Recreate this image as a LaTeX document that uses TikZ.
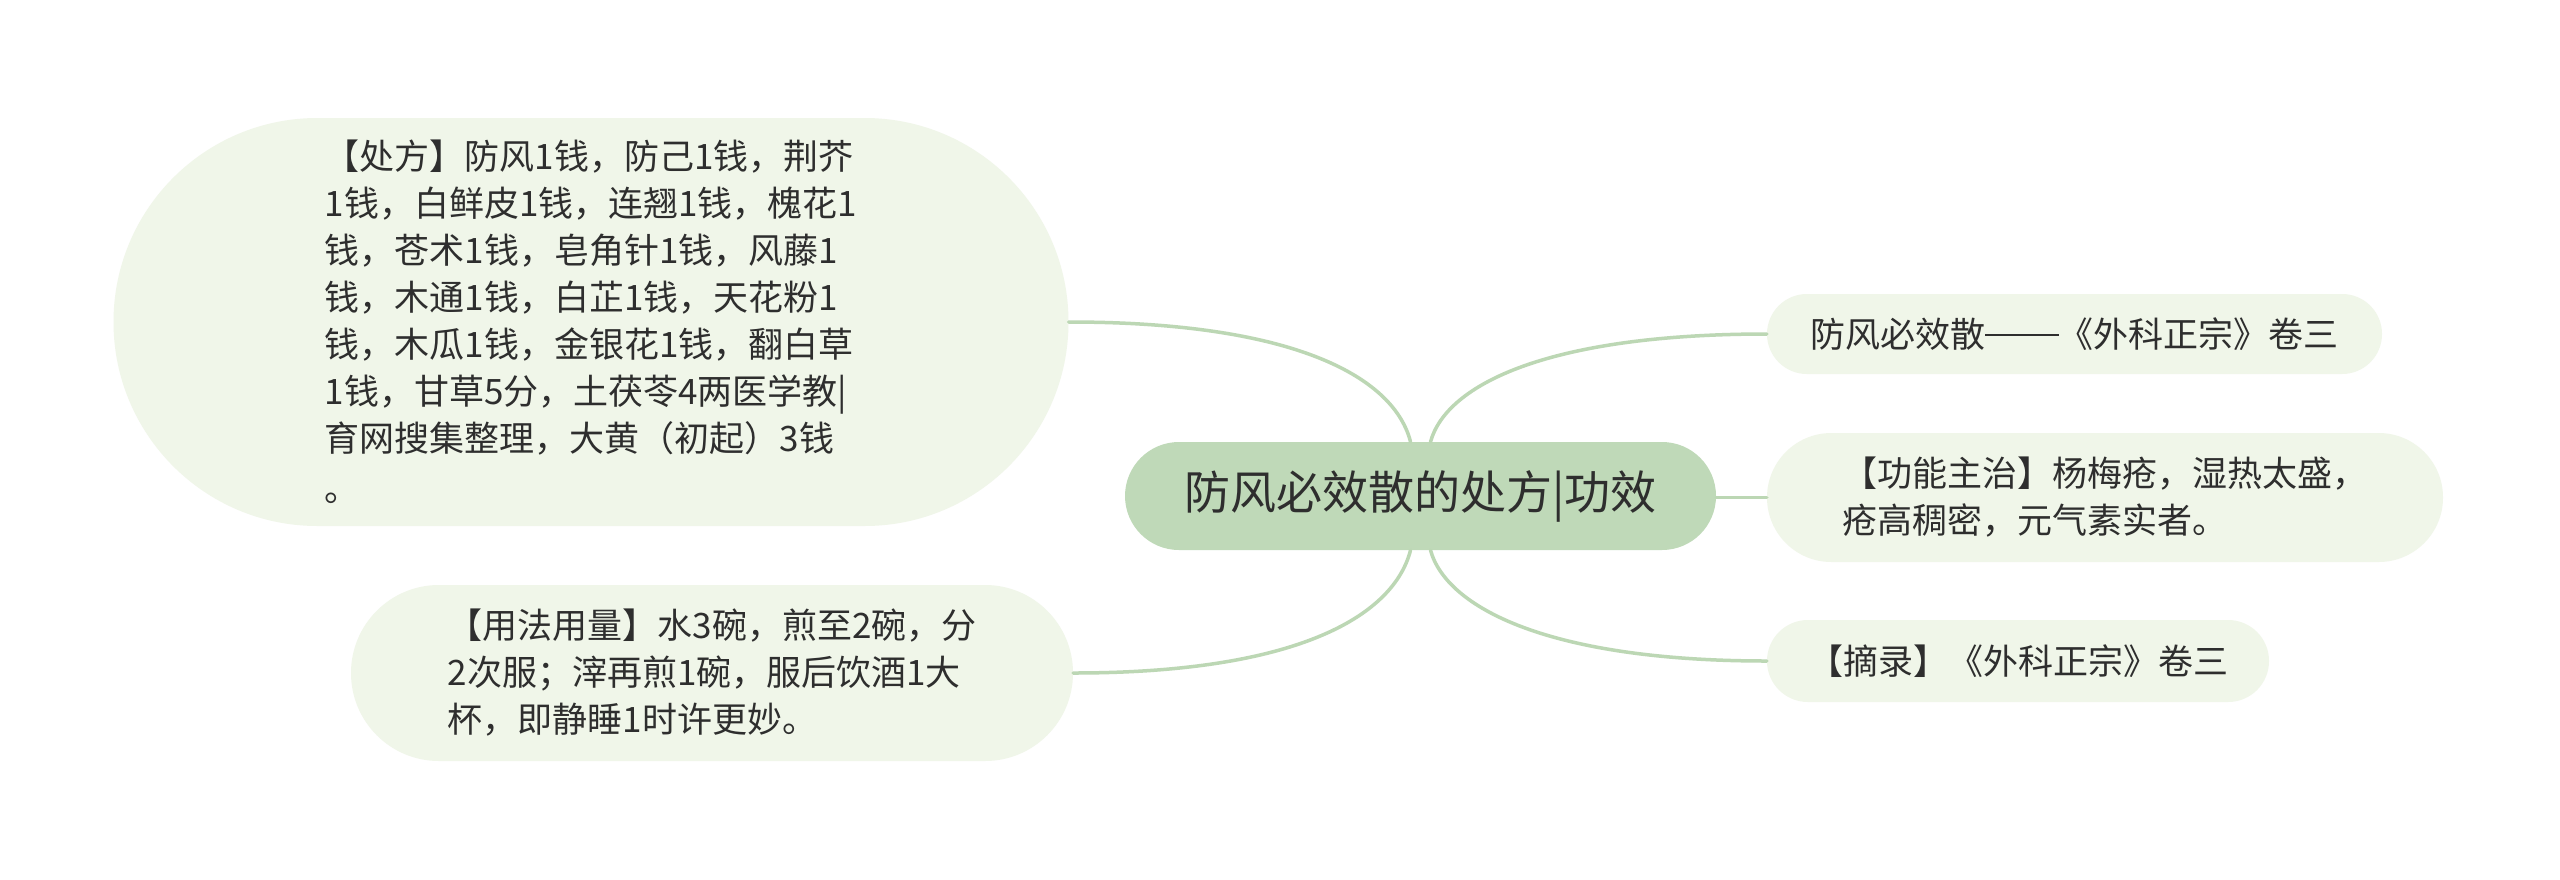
\documentclass[tikz,border=0pt]{standalone}
\usepackage{fontspec}
\setmainfont{Noto Sans CJK SC}
\definecolor{rootfill}{HTML}{BFD9B8}
\definecolor{leaffill}{HTML}{F0F6E9}
\definecolor{linkcol}{HTML}{BCD7B4}
\definecolor{txtcol}{HTML}{2E2E2E}
\newcommand{\cjkdash}{\rule[0.33em]{2.1em}{0.055em}}
\tikzset{
  rootbox/.style={fill=rootfill, draw=none, text=txtcol, inner sep=0pt,
    minimum width=591pt, minimum height=108pt, rounded corners=54pt,
    font=\fontsize{46}{55}\selectfont},
  leafbox/.style={fill=leaffill, draw=none, text=txtcol, inner sep=0pt,
    align=left, font=\fontsize{35}{47}\selectfont},
  link/.style={draw=linkcol, line width=3.5pt, line cap=round}
}
\begin{document}
\begin{tikzpicture}[x=1pt,y=-1pt]
\useasboundingbox[fill=white] (0,0) rectangle (2560,879);

% leaves
\node[leafbox, minimum width=955pt, minimum height=408pt, rounded corners=203.9pt] (rx) at (591,322)
 {【处方】防风1钱，防己1钱，荆芥\\
  1钱，白鲜皮1钱，连翘1钱，槐花1\\
  钱，苍术1钱，皂角针1钱，风藤1\\
  钱，木通1钱，白芷1钱，天花粉1\\
  钱，木瓜1钱，金银花1钱，翻白草\\
  1钱，甘草5分，土茯苓4两医学教|\\
  育网搜集整理，大黄（初起）3钱\\[3pt]
  。};
\node[leafbox, minimum width=722pt, minimum height=176pt, rounded corners=87.9pt] (use) at (712,673)
 {【用法用量】水3碗，煎至2碗，分\\
  2次服；滓再煎1碗，服后饮酒1大\\
  杯，即静睡1时许更妙。};
\node[leafbox, minimum width=615pt, minimum height=80pt, rounded corners=39.9pt] (src) at (2074.5,334)
 {防风必效散\cjkdash《外科正宗》卷三};
\node[leafbox, minimum width=676pt, minimum height=129pt, rounded corners=64.4pt] (func) at (2105,497.5)
 {【功能主治】杨梅疮，湿热太盛，\\
  疮高稠密，元气素实者。};
\node[leafbox, minimum width=502pt, minimum height=82pt, rounded corners=40.9pt] (ext) at (2018,661)
 {【摘录】《外科正宗》卷三};

% root
\node[rootbox] (root) at (1420.5,496) {防风必效散的处方|功效};

% anchor points on the root
\coordinate (rtl) at ([xshift=-10pt]root.north);
\coordinate (rtr) at ([xshift=10pt]root.north);
\coordinate (rbl) at ([xshift=-10pt]root.south);
\coordinate (rbr) at ([xshift=10pt]root.south);

% connectors
\draw[link] (rtl) .. controls ([xshift=-16pt,yshift=63pt]rtl) and ([xshift=230pt]rx.east) .. (rx.east);
\draw[link] (rtr) .. controls ([xshift=16pt,yshift=58pt]rtr) and ([xshift=-217pt]src.west) .. (src.west);
\draw[link] (root.east |- func.west) -- (func.west);
\draw[link] (rbl) .. controls ([xshift=-16pt,yshift=-63pt]rbl) and ([xshift=230pt]use.east) .. (use.east);
\draw[link] (rbr) .. controls ([xshift=16pt,yshift=-58pt]rbr) and ([xshift=-217pt]ext.west) .. (ext.west);
\end{tikzpicture}
\end{document}
